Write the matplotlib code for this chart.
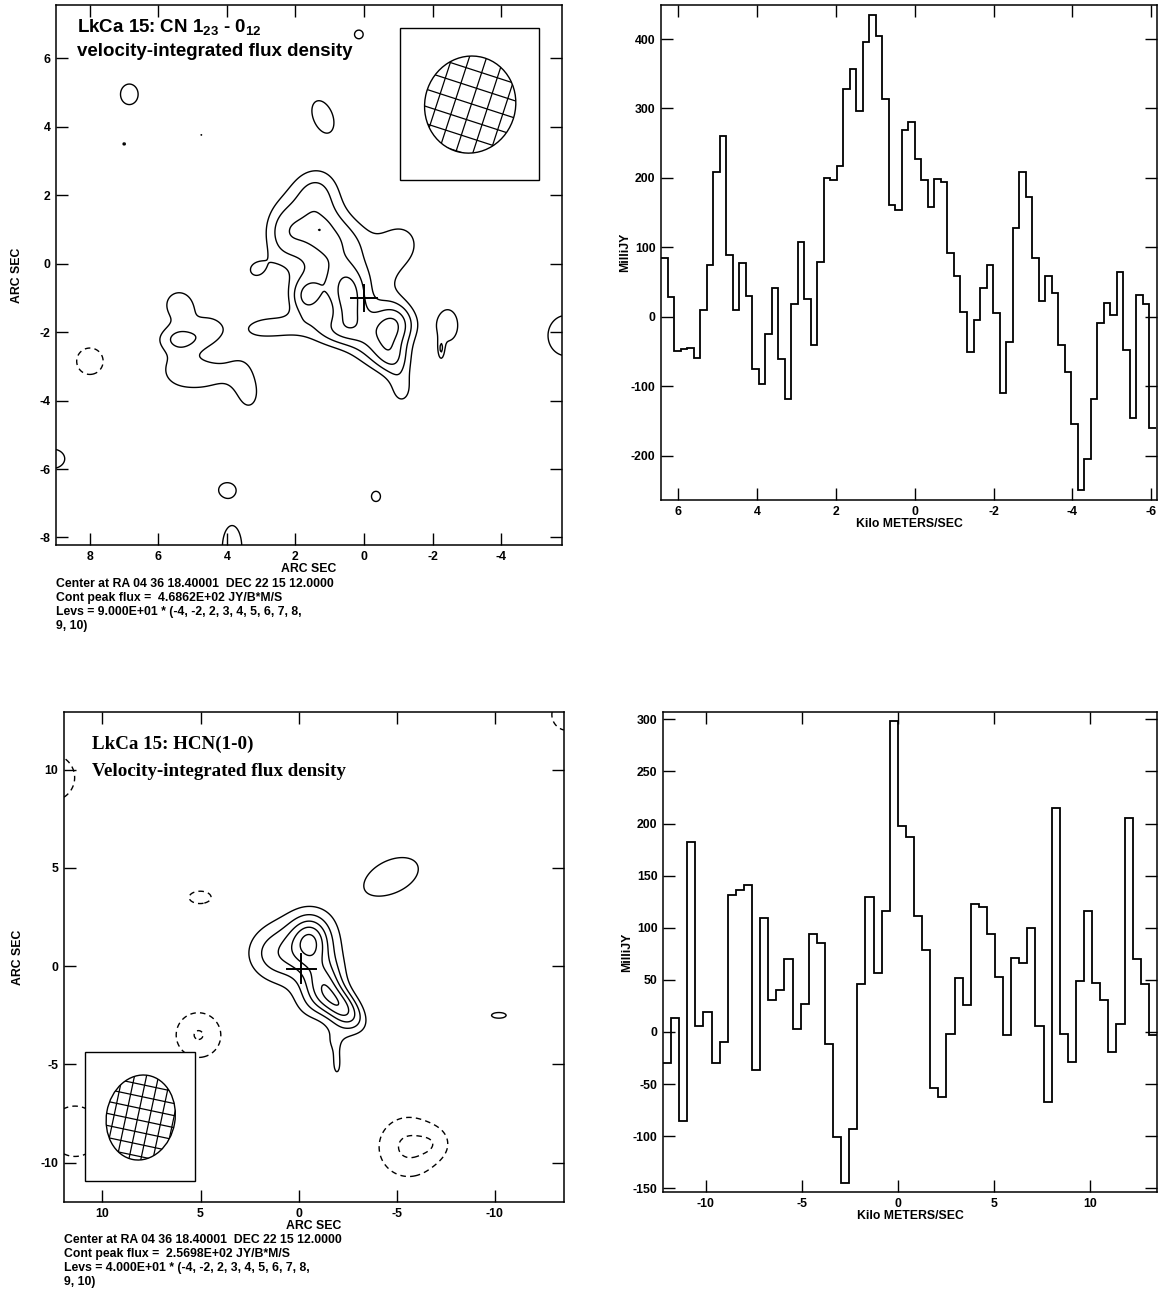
import numpy as np
import matplotlib
matplotlib.use("Agg")
import matplotlib.pyplot as plt
from matplotlib.patches import Ellipse, Rectangle

plt.rcParams['font.family'] = ['Liberation Sans', 'DejaVu Sans']
plt.rcParams['font.weight'] = 'bold'
plt.rcParams['axes.unicode_minus'] = False
plt.rcParams['mathtext.fontset'] = 'custom'
plt.rcParams['mathtext.bf'] = 'Liberation Sans:bold'
plt.rcParams['mathtext.rm'] = 'Liberation Sans:bold'

FS = 8.8  # small label size

# ---- CN 1(23)-0(12) spectrum (mJy), channels from +6.44 km/s downwards
cn_v_start = 6.44
cn_dv = -0.1652
cn_flux = [85, 29, -50, -47, -45, -59, 10, 75, 208, 260,
           89, 10, 78, 30, -76, -97, -25, 42, -61, -118,
           19, 108, 25, -41, 79, 200, 197, 217, 328, 357,
           297, 396, 434, 405, 313, 161, 154, 269, 281, 227,
           197, 158, 198, 194, 92, 58, 7, -51, -5, 41,
           74, 5, -110, -36, 128, 209, 173, 84, 22, 58,
           34, -41, -79, -155, -250, -205, -118, -9, 20, 2,
           64, -48, -146, 32, 18, -160]

# ---- HCN(1-0) spectrum (mJy), channels from -12.22 km/s upwards
hcn_v_start = -12.22
hcn_dv = 0.4216
hcn_flux = [-30, 13, -85, 182, 6, 19, -30, -10, 131, 136,
            141, -37, 109, 31, 40, 70, 3, 27, 94, 85,
            -12, -101, -145, -93, 46, 129, 57, 116, 298, 198,
            187, 111, 79, -54, -62, -2, 52, 26, 123, 120,
            94, 53, -3, 71, 66, 100, 6, -67, 215, -2,
            -29, 49, 116, 47, 31, -19, 8, 205, 70, 46, -3]

# ---- CN map: emission components (arcsec offsets, JY/B*M/S)
cn_x = [1.4, 1.3, 2.4, 0.3, -1.1, 0.45, 1.7, -0.9, -0.5, 0.9, -0.3, -0.85, -1.1, 1.1, 0.3, 1.3,
        5.35, 5.4, 5.5, 4.4, 3.35, 2.7, 4.4, 3.5, 4.8, 3.2,
        6.85, 1.2, 0.15, 7.0, -2.45, -5.9, 9.1, 4.0, -0.35, 3.85, 8.0, 4.75, -2.25]
cn_y = [2.2, 0.9, 0.9, 0.6, 0.6, -0.9, -1.0, -1.75, -0.5, -2.0, -2.5, -2.8, -3.7, -0.4, -1.6, 1.0,
        -2.2, -1.2, -3.1, -3.2, -3.95, -1.85, -1.8, -2.9, -3.4, -0.2,
        4.95, 4.3, 6.7, 3.5, -1.8, -2.1, -5.7, -6.6, -6.8, -8.3, -2.85, 3.76, -2.55]
cn_amp = [240, 300, 230, 150, 210, 330, 300, 380, 150, 220, 220, 200, 200, 180, 150, 60,
          230, 230, 190, 130, 170, 230, 150, 120, 70, 170,
          260, 250, 220, 190, 250, 265, 250, 230, 215, 250, -260, 190, 190]
cn_sx = [0.6, 0.7, 0.5, 0.6, 0.55, 0.4, 0.4, 0.5, 0.6, 0.7, 0.6, 0.4, 0.35, 0.6, 0.6, 0.15,
         0.6, 0.5, 0.5, 0.6, 0.4, 0.7, 0.4, 0.5, 0.5, 0.35,
         0.3, 0.35, 0.2, 0.12, 0.35, 0.6, 0.45, 0.3, 0.22, 0.35, 0.45, 0.05, 0.08]
cn_sy = [0.6, 0.7, 0.8, 0.6, 0.6, 0.6, 0.45, 0.5, 0.6, 0.4, 0.5, 0.4, 0.5, 0.6, 0.5, 0.15,
         0.3, 0.5, 0.5, 0.5, 0.55, 0.3, 0.4, 0.6, 0.4, 0.35,
         0.35, 0.6, 0.2, 0.1, 0.55, 0.67, 0.35, 0.25, 0.25, 0.8, 0.45, 0.05, 0.25]
cn_ang = [0] * 27 + [-22] + [0] * 11
cn_levels = [-360, -180, 180, 270, 360, 450, 540, 630, 720, 810, 900]

# ---- HCN map components
hcn_x = [-0.6, -0.2, -2.2, -1.3, 1.2, -0.7, -1.8, -1.95,
         -4.8, -10.2,
         5.0, 5.1, -5.6, -7.0, 12.6, 11.4, -13.7]
hcn_y = [1.3, 0.9, -2.1, -0.6, 0.6, -2.0, -3.9, -5.2,
         4.6, -2.5,
         3.5, -3.5, -9.2, -9.0, 9.6, -8.4, 12.8]
hcn_amp = [140, 100, 190, 90, 70, 60, 70, 75,
           115, 90,
           -100, -165, -175, -60, -130, -130, -110]
hcn_sx = [0.7, 2.1, 1.1, 0.7, 1.2, 0.8, 0.7, 0.25,
          1.6, 0.77,
          0.9, 0.95, 1.2, 0.6, 1.2, 1.3, 1.0]
hcn_sy = [0.9, 2.0, 0.6, 0.8, 1.0, 0.8, 0.7, 0.6,
          0.95, 0.3,
          0.5, 0.95, 1.2, 0.6, 1.2, 1.3, 1.0]
hcn_ang = [0, 0, 45, 0, 0, 0, 0, 0,
           -24, 0,
           0, 0, 0, 0, 0, 0, 0]
hcn_levels = [-160, -80, 80, 120, 160, 200, 240, 280, 320, 360, 400]


def make_map(xlim, ylim, xs, ys, amps, sxs, sys_, angs):
    gx = np.linspace(min(xlim), max(xlim), 450)
    gy = np.linspace(min(ylim), max(ylim), 450)
    X, Y = np.meshgrid(gx, gy)
    Z = np.zeros_like(X)
    for x0, y0, a, sx, sy, t in zip(xs, ys, amps, sxs, sys_, angs):
        t = np.radians(t)
        u = np.cos(t) * (X - x0) + np.sin(t) * (Y - y0)
        v = -np.sin(t) * (X - x0) + np.cos(t) * (Y - y0)
        Z += a * np.exp(-(u ** 2 / (2 * sx ** 2) + v ** 2 / (2 * sy ** 2)))
    return X, Y, Z


def draw_contours(ax, X, Y, Z, levels):
    neg = [l for l in levels if l < 0]
    pos = [l for l in levels if l > 0]
    ax.contour(X, Y, Z, levels=pos, colors='k', linewidths=1.0, zorder=2)
    ax.contour(X, Y, Z, levels=neg, colors='k', linewidths=1.0,
               linestyles=[(0, (4, 3))], zorder=2)


def beam(ax, box, cx, cy, w, h, ang, step, grid_ang):
    x0, x1, y0, y1 = box
    ax.add_patch(Rectangle((min(x0, x1), y0), abs(x1 - x0), y1 - y0,
                           facecolor='white', edgecolor='k', lw=1.0, zorder=3))
    ell = Ellipse((cx, cy), w, h, angle=ang, facecolor='white',
                  edgecolor='k', lw=1.0, zorder=4)
    ax.add_patch(ell)
    r = max(w, h)
    t = np.radians(grid_ang)
    for k in np.arange(-r, r + step, step):
        for d in (np.array([np.cos(t), np.sin(t)]), np.array([-np.sin(t), np.cos(t)])):
            n = np.array([-d[1], d[0]])
            p0 = np.array([cx, cy]) + n * k - d * r
            p1 = np.array([cx, cy]) + n * k + d * r
            ln, = ax.plot([p0[0], p1[0]], [p0[1], p1[1]], color='k', lw=0.9, zorder=5)
            ln.set_clip_path(ell)


def style(ax, xticks, yticks):
    ax.set_xticks(xticks)
    ax.set_yticks(yticks)
    ax.tick_params(direction='in', length=8.5, width=1.0, top=True, right=True,
                   labelsize=FS, pad=4)
    for lab in ax.get_xticklabels() + ax.get_yticklabels():
        lab.set_fontweight('bold')
    for s in ax.spines.values():
        s.set_linewidth(1.1)


W, H = 1160, 1294
fig = plt.figure(figsize=(W / 100, H / 100), dpi=100)


def px_axes(l, t, r, b):
    return fig.add_axes([l / W, 1 - b / H, (r - l) / W, (b - t) / H])


def foot(x, y0, peak, levs):
    lines = ['Center at RA 04 36 18.40001  DEC 22 15 12.0000',
             'Cont peak flux =  ' + peak + ' JY/B*M/S',
             'Levs = ' + levs + ' * (-4, -2, 2, 3, 4, 5, 6, 7, 8,',
             '9, 10)']
    for i, s in enumerate(lines):
        fig.text(x / W, 1 - (y0 + 14 * i) / H, s, fontsize=FS,
                 fontweight='bold', va='center')


# ---------------- CN map
ax1 = px_axes(56, 5, 562, 545)
xl1, yl1 = (8.99, -5.78), (-8.22, 7.56)
X, Y, Z = make_map(xl1, yl1, cn_x, cn_y, cn_amp, cn_sx, cn_sy, cn_ang)
draw_contours(ax1, X, Y, Z, cn_levels)
ax1.set_xlim(*xl1)
ax1.set_ylim(*yl1)
style(ax1, [8, 6, 4, 2, 0, -2, -4], [6, 4, 2, 0, -2, -4, -6, -8])
beam(ax1, (-1.05, -5.12, 2.45, 6.88), -3.1, 4.65, 2.65, 2.85, 15, 0.48, 18)
ax1.plot([0.38, -0.38], [-1.0, -1.0], color='k', lw=1.4, zorder=6)
ax1.plot([0, 0], [-1.38, -0.62], color='k', lw=1.4, zorder=6)
ax1.text(0.042, 0.957, r'LkCa 15: CN 1$_{\mathbf{23}}$ - 0$_{\mathbf{12}}$',
         transform=ax1.transAxes, fontsize=13.5, fontweight='bold', va='center')
ax1.text(0.042, 0.913, 'velocity-integrated flux density',
         transform=ax1.transAxes, fontsize=13.5, fontweight='bold', va='center')
ax1.set_xlabel('ARC SEC', fontsize=FS, fontweight='bold', labelpad=0)
ax1.set_ylabel('ARC SEC', fontsize=FS, fontweight='bold', labelpad=12)
foot(56, 584, '4.6862E+02', '9.000E+01')

# ---------------- CN spectrum
ax2 = px_axes(661, 5, 1157, 500)
edges = cn_v_start + cn_dv * np.arange(len(cn_flux) + 1)
ax2.stairs(cn_flux, edges, baseline=None, color='k', lw=1.3)
ax2.set_xlim(6.44, -6.145)
ax2.set_ylim(-264, 449)
style(ax2, [6, 4, 2, 0, -2, -4, -6], [-200, -100, 0, 100, 200, 300, 400])
ax2.set_xlabel('Kilo METERS/SEC', fontsize=FS, fontweight='bold', labelpad=0)
ax2.set_ylabel('MilliJY', fontsize=FS, fontweight='bold', labelpad=0)

# ---------------- HCN map
ax3 = px_axes(64, 712, 564, 1202)
xl3, yl3 = (11.96, -13.52), (-12.0, 12.94)
X, Y, Z = make_map(xl3, yl3, hcn_x, hcn_y, hcn_amp, hcn_sx, hcn_sy, hcn_ang)
draw_contours(ax3, X, Y, Z, hcn_levels)
ax3.set_xlim(*xl3)
ax3.set_ylim(*yl3)
style(ax3, [10, 5, 0, -5, -10], [10, 5, 0, -5, -10])
beam(ax3, (10.9, 5.29, -10.92, -4.39), 8.05, -7.7, 3.5, 4.35, 10, 0.6, 12)
ax3.plot([0.62, -0.88], [-0.12, -0.12], color='k', lw=1.4, zorder=6)
ax3.plot([-0.13, -0.13], [-0.87, 0.63], color='k', lw=1.4, zorder=6)
ax3.text(0.055, 0.933, 'LkCa 15: HCN(1-0)', transform=ax3.transAxes,
         fontsize=13.7, fontweight='bold', family='Liberation Serif', va='center')
ax3.text(0.055, 0.879, 'Velocity-integrated flux density', transform=ax3.transAxes,
         fontsize=13.7, fontweight='bold', family='Liberation Serif', va='center')
ax3.set_xlabel('ARC SEC', fontsize=FS, fontweight='bold', labelpad=0)
ax3.set_ylabel('ARC SEC', fontsize=FS, fontweight='bold', labelpad=12)
foot(64, 1240, '2.5698E+02', '4.000E+01')

# ---------------- HCN spectrum
ax4 = px_axes(663, 712, 1157, 1192)
edges = hcn_v_start + hcn_dv * np.arange(len(hcn_flux) + 1)
ax4.stairs(hcn_flux, edges, baseline=None, color='k', lw=1.3)
ax4.set_xlim(-12.22, 13.5)
ax4.set_ylim(-153.6, 307)
style(ax4, [-10, -5, 0, 5, 10], [-150, -100, -50, 0, 50, 100, 150, 200, 250, 300])
ax4.set_xlabel('Kilo METERS/SEC', fontsize=FS, fontweight='bold', labelpad=0)
ax4.set_ylabel('MilliJY', fontsize=FS, fontweight='bold', labelpad=0)

fig.savefig('out.png', dpi=100)
